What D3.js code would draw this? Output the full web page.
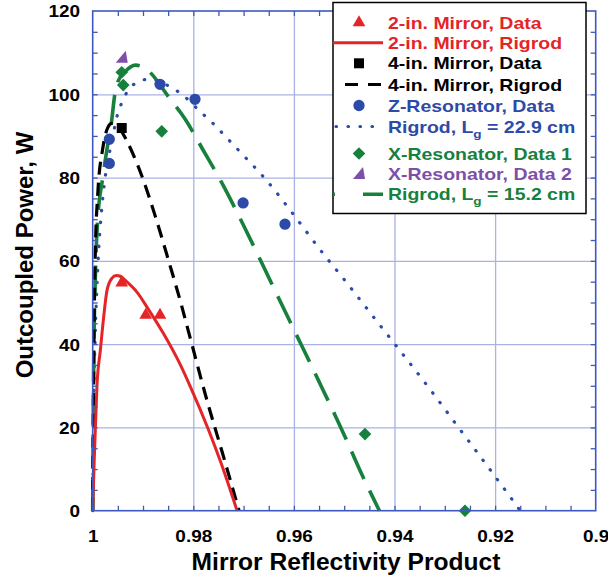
<!DOCTYPE html>
<html><head><meta charset="utf-8">
<script src="https://cdn.jsdelivr.net/npm/d3@7"></script>
<style>
html,body{margin:0;padding:0;background:#fff;}
text{font-family:"Liberation Sans",Arial,Helvetica,sans-serif;font-weight:bold;}
</style></head>
<body>
<svg id="chart" width="608" height="577"></svg>
<script>
// ---------- data ----------
const xTickValues = [1, 0.98, 0.96, 0.94, 0.92, 0.9];
const xTickLabels = ["1", "0.98", "0.96", "0.94", "0.92", "0.9"];
const yTickValues = [0, 20, 40, 60, 80, 100, 120];
const yTickLabels = ["0", "20", "40", "60", "80", "100", "120"];
const xMinorTicks = [0.995,0.99,0.985,0.975,0.97,0.965,0.955,0.95,0.945,0.935,0.93,0.925,0.915,0.91,0.905];
const yMinorTicks = [5,10,15,25,30,35,45,50,55,65,70,75,85,90,95,105,110,115];

// 2-in. mirror, data
const mirror2X = [0.99423, 0.98946, 0.98662];
const mirror2Y = [54.7, 47.0, 47.0];
// 2-in. mirror, Rigrod curve
const rig2X = [1, 0.9997, 0.9994, 0.99915, 0.99847, 0.99782, 0.99716, 0.9962, 0.9953, 0.9945, 0.99351, 0.9912, 0.98889, 0.98596, 0.98264, 0.98066, 0.977, 0.9745, 0.9713];
const rig2Y = [0, 12, 22, 30, 38.6, 46.5, 52.9, 55.8, 56.5, 56.3, 55.3, 52.5, 48.3, 42.6, 35.2, 30, 19.5, 11.5, 0];
// 4-in. mirror, data
const mirror4X = [0.99423];
const mirror4Y = [91.9];
// 4-in. mirror, Rigrod curve
const rig4X = [1, 0.9998, 0.9995, 0.999, 0.998, 0.997, 0.9962, 0.995, 0.9935, 0.9923, 0.9899, 0.9875, 0.9849, 0.9825, 0.9804, 0.9774, 0.974, 0.9709];
const rig4Y = [0, 35, 61, 76, 87, 92, 93, 92.3, 89.5, 86.5, 79.3, 70.5, 60, 50, 40.5, 27, 13, 0];
// Z-resonator, data
const zResX = [0.9967, 0.9967, 0.98662, 0.97966, 0.9701, 0.96177];
const zResY = [89.2, 83.4, 102.4, 98.8, 73.9, 68.8];
// Rigrod, Lg = 22.9 cm
const rigZX = [1, 0.9998, 0.9995, 0.999, 0.998, 0.997, 0.9963, 0.995, 0.9942, 0.9932, 0.9911, 0.9889, 0.9869, 0.9849, 0.9823, 0.9784, 0.976, 0.9737, 0.9697, 0.9657, 0.96, 0.955, 0.95, 0.945, 0.94, 0.9329, 0.9279, 0.9214, 0.9165, 0.915];
const rigZY = [0, 25, 42, 58, 75, 84, 88, 95.5, 98, 100.5, 102.9, 103.6, 103.2, 102, 100, 95.6, 92.9, 90, 84.9, 79.7, 71, 63, 55.5, 47.8, 40.1, 29.1, 21, 10.5, 2.5, 0];
// X-resonator, data 1
const xRes1X = [0.99423, 0.99392, 0.98628, 0.94587, 0.92599];
const xRes1Y = [105.3, 102.2, 91.1, 18.4, 0];
// X-resonator, data 2
const xRes2X = [0.99423];
const xRes2Y = [108.8];
// Rigrod, Lg = 15.2 cm
const rigXX = [1, 0.9998, 0.9995, 0.999, 0.998, 0.997, 0.9963, 0.9956, 0.995, 0.9935, 0.9915, 0.9895, 0.9883, 0.985, 0.9816, 0.978, 0.9744, 0.97, 0.965, 0.96, 0.955, 0.95, 0.9466, 0.943];
const rigXY = [0, 35, 55, 70, 80, 88, 93, 100, 103, 105.5, 107, 106.3, 104.9, 99.5, 94, 86.5, 78.9, 68.5, 56, 43.5, 31, 18.2, 9, 0];

const legendLabels = ["2-in. Mirror, Data", "2-in. Mirror, Rigrod", "4-in. Mirror, Data", "4-in. Mirror, Rigrod",
  "Z-Resonator, Data", "Rigrod, L|g| = 22.9 cm", "X-Resonator, Data 1", "X-Resonator, Data 2", "Rigrod, L|g| = 15.2 cm"];

// ---------- styles ----------
const RED = "#e42528", BLACK = "#000000", BLUE = "#2c4aa8", GREEN = "#17803c", PURPLE = "#7e4fa8";
const AXIS = "#3d59bd", GRID = "#a9b3e3";

const svg = d3.select("#chart");
const L = 92.7, R = 595.7, T = 11, B = 510.7;
const x = d3.scaleLinear().domain([1, 0.9]).range([L, R]);
const y = d3.scaleLinear().domain([0, 120]).range([B, T]);

svg.append("rect").attr("width", 608).attr("height", 577).attr("fill", "#fff");

// gridlines
svg.append("g").attr("transform", `translate(0,${B})`)
  .call(d3.axisBottom(x).tickValues(xTickValues.slice(1, -1)).tickSize(-(B - T)).tickFormat(""))
  .call(g => g.select(".domain").remove())
  .call(g => g.selectAll("line").attr("stroke", GRID).attr("stroke-width", 1.3));
svg.append("g").attr("transform", `translate(${L},0)`)
  .call(d3.axisLeft(y).tickValues(yTickValues.slice(1, -1)).tickSize(-(R - L)).tickFormat(""))
  .call(g => g.select(".domain").remove())
  .call(g => g.selectAll("line").attr("stroke", GRID).attr("stroke-width", 1.3));

// curves
const line = d3.line().x(d => x(d[0])).y(d => y(d[1])).curve(d3.curveMonotoneX);
function curve(xs, ys, color, w, dash, cap) {
  const pts = xs.map((v, i) => [v, ys[i]]);
  svg.append("path").datum(pts).attr("d", line).attr("fill", "none")
    .attr("stroke", color).attr("stroke-width", w)
    .attr("stroke-dasharray", dash || null).attr("stroke-linecap", cap || "butt")
    .attr("stroke-linejoin", "round");
}
curve(rigZX, rigZY, BLUE, 3.2, "0.5 11.5", "round");
curve(rigXX, rigXY, GREEN, 3.6, "30 13");
curve(rig4X, rig4Y, BLACK, 3.2, "13 8");
curve(rig2X, rig2Y, RED, 3);

// markers
const triPath = d3.symbol().type(d3.symbolTriangle).size(70)();
const circPath = d3.symbol().type(d3.symbolCircle).size(100)();
const sqPath = d3.symbol().type(d3.symbolSquare).size(100)();
const diaPath = d3.symbol().type(d3.symbolSquare).size(80)();
const halfTri = "M-6,5L6,5L4,-7Z";
function markers(xs, ys, path, color, rot) {
  svg.append("g").selectAll("path").data(xs.map((v, i) => [v, ys[i]])).join("path")
    .attr("d", path).attr("fill", color)
    .attr("transform", d => `translate(${x(d[0])},${y(d[1])})` + (rot ? ` rotate(${rot})` : ""));
}
markers(zResX, zResY, circPath, BLUE);
markers(xRes1X, xRes1Y, diaPath, GREEN, 45);
markers(xRes2X, xRes2Y, halfTri, PURPLE);
markers(mirror4X, mirror4Y, sqPath, BLACK);
markers(mirror2X, mirror2Y, triPath, RED);

// frame
svg.append("rect").attr("x", L).attr("y", T).attr("width", R - L).attr("height", B - T)
  .attr("fill", "none").attr("stroke", AXIS).attr("stroke-width", 1.6);

// minor/major inward ticks on all sides
function tickStyle(g) { g.select(".domain").remove(); g.selectAll("line").attr("stroke", AXIS).attr("stroke-width", 1.3); }
const allX = xMinorTicks.concat(xTickValues.slice(1, -1));
const allY = yMinorTicks.concat(yTickValues.slice(1, -1));
svg.append("g").attr("transform", `translate(0,${B})`).call(d3.axisBottom(x).tickValues(allX).tickSize(-5).tickFormat("")).call(tickStyle);
svg.append("g").attr("transform", `translate(0,${T})`).call(d3.axisTop(x).tickValues(allX).tickSize(-5).tickFormat("")).call(tickStyle);
svg.append("g").attr("transform", `translate(${L},0)`).call(d3.axisLeft(y).tickValues(allY).tickSize(-5).tickFormat("")).call(tickStyle);
svg.append("g").attr("transform", `translate(${R},0)`).call(d3.axisRight(y).tickValues(allY).tickSize(-5).tickFormat("")).call(tickStyle);

// tick labels
svg.append("g").attr("transform", `translate(0,${B})`)
  .call(d3.axisBottom(x).tickValues(xTickValues).tickSize(0).tickPadding(0).tickFormat((d, i) => xTickLabels[i]))
  .call(g => g.select(".domain").remove())
  .call(g => g.selectAll("text").attr("y", 31).attr("dy", null).attr("fill", "#000")
    .attr("font-size", 16.5).attr("font-family", null).attr("transform", "scale(1.15,1)"));
svg.append("g").attr("transform", `translate(${L},0)`)
  .call(d3.axisLeft(y).tickValues(yTickValues).tickSize(0).tickPadding(0).tickFormat((d, i) => yTickLabels[i]))
  .call(g => g.select(".domain").remove())
  .call(g => g.selectAll("text").attr("x", -11).attr("dy", "0.36em").attr("fill", "#000")
    .attr("font-size", 16.5).attr("font-family", null).attr("transform", "scale(1.15,1)"));

// axis titles
svg.append("text").attr("transform", "translate(346,570) scale(1.07,1)").attr("text-anchor", "middle")
  .attr("font-size", 23).attr("fill", "#000").text("Mirror Reflectivity Product");
svg.append("text").attr("transform", "translate(33,255) rotate(-90)").attr("text-anchor", "middle")
  .attr("font-size", 24).attr("fill", "#000").text("Outcoupled Power, W");

// legend
const lg = svg.append("g");
lg.append("rect").attr("x", 333).attr("y", 2.5).attr("width", 253).attr("height", 211)
  .attr("fill", "#fff").attr("stroke", "#000").attr("stroke-width", 1.5);
const legendY = [22.7, 42.7, 63.3, 84.5, 105.5, 126.5, 153.5, 174, 194.3];
const legendColors = [RED, RED, BLACK, BLACK, BLUE, BLUE, GREEN, PURPLE, GREEN];
legendLabels.forEach((lab, i) => {
  const t = lg.append("text").attr("transform", `translate(388,${legendY[i] + 6}) scale(1.18,1)`)
    .attr("font-size", 16.5).attr("fill", legendColors[i]);
  const parts = lab.split("|");
  t.append("tspan").text(parts[0]);
  if (parts.length > 1) {
    t.append("tspan").attr("font-size", 11.5).attr("dy", 5).text(parts[1]);
    t.append("tspan").attr("dy", -5).text(parts[2]);
  }
});
const mx = 359;
lg.append("path").attr("d", triPath).attr("fill", RED).attr("transform", `translate(${mx},${legendY[0]})`);
lg.append("line").attr("x1", 333).attr("x2", 383).attr("y1", legendY[1]).attr("y2", legendY[1]).attr("stroke", RED).attr("stroke-width", 3);
lg.append("path").attr("d", sqPath).attr("fill", BLACK).attr("transform", `translate(${mx},${legendY[2]})`);
lg.append("line").attr("x1", 345).attr("x2", 383).attr("y1", legendY[3]).attr("y2", legendY[3]).attr("stroke", BLACK).attr("stroke-width", 3.2).attr("stroke-dasharray", "13 10");
lg.append("path").attr("d", circPath).attr("fill", BLUE).attr("transform", `translate(${mx},${legendY[4]})`);
lg.append("line").attr("x1", 336).attr("x2", 384).attr("y1", legendY[5]).attr("y2", legendY[5]).attr("stroke", BLUE).attr("stroke-width", 3.2).attr("stroke-dasharray", "0.5 11.5").attr("stroke-linecap", "round");
lg.append("path").attr("d", diaPath).attr("fill", GREEN).attr("transform", `translate(${mx},${legendY[6]}) rotate(45)`);
lg.append("path").attr("d", halfTri).attr("fill", PURPLE).attr("transform", `translate(${mx},${legendY[7]})`);
lg.append("line").attr("x1", 333).attr("x2", 383).attr("y1", legendY[8]).attr("y2", legendY[8]).attr("stroke", GREEN).attr("stroke-width", 3.6).attr("stroke-dasharray", "2 28 30");
</script>
</body></html>
